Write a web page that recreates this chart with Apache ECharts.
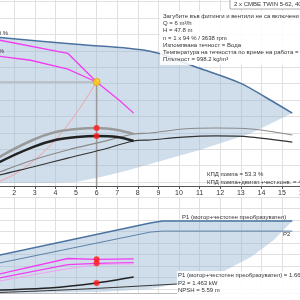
<!DOCTYPE html>
<html>
<head>
<meta charset="utf-8">
<script src="https://cdn.jsdelivr.net/npm/echarts@6/dist/echarts.min.js"></script>
<style>
  html, body { margin: 0; padding: 0; background: #fff; }
  #chart { width: 300px; height: 300px; }
</style>
</head>
<body>
<div id="chart"></div>
<script>
// ---- top chart: Q [m3/h] / H [m] / efficiency [%] ----
const maxQ = [0, 1.3, 5, 8.6, 11, 13, 14.2, 15.5];
const maxH = [69.5, 68.3, 65.1, 61.9, 54.1, 47.2, 40.8, 33.5];
const minQ = [0, 1.3, 3.7, 5, 6.2, 7.4, 8.6, 11, 13.5, 15.5];
const minH = [1.3, 1.4, 1.4, 1.8, 4.1, 6.9, 10.1, 16.5, 24.3, 33.5];

const curveQ100 = [0, 1.3, 4.6, 6.0, 7.1, 7.8];
const curveH100 = [68.1, 67.0, 61.0, 47.8, 39.4, 33.5];
const curveQ94 = [0, 1.3, 2.8, 4.6, 6.0];
const curveH94 = [60.2, 59.6, 57.8, 53.7, 47.8];

const systemQ = [0, 1, 2, 3, 4, 5, 6];
const systemH = [0, 1.3, 5.3, 12, 21.2, 33.2, 47.8];

const effQ94 = [0.8, 1.3, 2.9, 4.0, 5.05, 6.0, 7.0, 7.8];
const effPump94 = [18, 26.7, 42.3, 49.6, 52.4, 53.3, 51.5, 47.8];
const effTotal94 = [15, 22.1, 35.8, 42.3, 45.0, 46.0, 45.0, 41.4];
const effQ100 = [0.8, 1.3, 2.9, 4.6, 6.2, 7.8, 8.6, 10.2, 11.8, 13.5, 15.5];
const effPump100 = [9, 12.9, 23.9, 33.1, 40.4, 47.8, 48.7, 52.4, 53.3, 52.4, 46.9];
const effTotal100 = [7, 10.1, 17.5, 25.7, 33.1, 41.4, 42.3, 45.0, 46.0, 45.0, 40.4];

const dutyQ = 6.0;
const dutyH = 47.8;
const dutyEffPump = 53.3;
const dutyEffTotal = 46.0;

// ---- bottom chart: power [kW] / NPSH [m] ----
const p1MaxQ = [0, 1.3, 8.6, 9.2, 15.5];
const p1MaxP = [1.59, 1.87, 3.45, 3.55, 3.55];
const p2MaxQ = [0, 1.3, 8.6, 9.2, 15.5];
const p2MaxP = [1.21, 1.48, 3.0, 3.05, 3.05];
const pMinQ = [0, 1.3, 6.2, 8.6, 9.8, 11, 12.1, 13.5, 14.6, 15.5];
const pMinP = [0, 0, 0.05, 0.2, 0.44, 0.69, 1.03, 1.77, 2.61, 3.55];

const p1Q94 = [0, 1.3, 4.6, 6.0, 7.8];
const p1P94 = [0.64, 0.94, 1.70, 1.66, 1.68];
const p2Q94 = [0, 1.3, 4.6, 6.0, 7.8];
const p2P94 = [0.45, 0.74, 1.40, 1.463, 1.50];
const p2bQ94 = [0, 1.3, 6.0, 7.8];
const p2bP94 = [0.3, 0.59, 1.38, 1.43];

const npshQ = [0, 1.3, 3.7, 6.0, 7.8];
const npshM = [1.0, 1.68, 2.8, 5.59, 8.9];
const npshMaxQ = [0, 1.3, 5, 9.9, 10.5];
const npshMaxM = [0, 0.3, 2.0, 5.0, 5.3];

const dutyP1 = 1.66;
const dutyP2 = 1.463;
const dutyNpsh = 5.59;

const xTicks = [0, 16, 1];

const zip = (a, b) => a.map((v, i) => [v, b[i]]);

const chart = echarts.init(document.getElementById('chart'), null, { renderer: 'canvas' });

const font = '"Liberation Sans", Arial, sans-serif';
const magenta = '#f23cf2';
const blueLine = '#4a72a0';
const fillCol = 'rgba(150,180,208,0.45)';
const gridCol = '#e0e0e0';

function envelope(upQ, upV, loQ, loV, xi, yi) {
    return {
        type: 'custom',
        xAxisIndex: xi,
        yAxisIndex: yi,
        silent: true,
        data: [[0, 0]],
        z: 1,
        renderItem: function (params, api) {
            let pts = zip(upQ, upV).map(p => api.coord(p));
            let low = zip(loQ, loV).map(p => api.coord(p)).reverse();
            return {
                type: 'polygon',
                shape: { points: pts.concat(low) },
                style: { fill: fillCol, stroke: null }
            };
        }
    };
}

function line(q, v, xi, yi, color, width, z, smooth) {
    return {
        type: 'line',
        xAxisIndex: xi,
        yAxisIndex: yi,
        data: zip(q, v),
        showSymbol: false,
        smooth: smooth === undefined ? 0.3 : smooth,
        silent: true,
        z: z || 3,
        lineStyle: { color: color, width: width }
    };
}

function dots(pts, xi, yi, color, size, border) {
    return {
        type: 'scatter',
        xAxisIndex: xi,
        yAxisIndex: yi,
        data: pts,
        symbolSize: size,
        silent: true,
        z: 10,
        itemStyle: { color: color, borderColor: border || color, borderWidth: border ? 1 : 0 }
    };
}

function txt(x, y, s, align) {
    return {
        type: 'text',
        x: x, y: y,
        z: 100,
        style: { text: s, fill: '#333', font: '6px ' + font, textAlign: align || 'left', textVerticalAlign: 'middle' }
    };
}

// hidden axis pair used only to draw a grid's horizontal lines
function gridLinesX(gi) {
    return { gridIndex: gi, type: 'value', min: 0, max: 1, show: false };
}
function gridLinesY(gi, n) {
    return {
        gridIndex: gi, type: 'value', min: 0, max: n, interval: 1,
        axisLine: { show: false }, axisTick: { show: false }, axisLabel: { show: false },
        splitLine: { lineStyle: { color: gridCol } }
    };
}

chart.setOption({
    animation: false,
    backgroundColor: '#fff',
    grid: [
        { left: -27, width: 329.6, top: -9.8, height: 195.8, outerBoundsMode: 'none', containLabel: false },
        { left: -27, width: 329.6, top: 197, height: 96, outerBoundsMode: 'none', containLabel: false },
        // horizontal grid lines of the top chart
        { left: -27, width: 329.6, top: -14.8, height: 196.8, outerBoundsMode: 'none', containLabel: false },
        // horizontal grid lines of the bottom chart
        { left: -27, width: 329.6, top: 197, height: 103.5, outerBoundsMode: 'none', containLabel: false }
    ],
    xAxis: [
        {
            gridIndex: 0, type: 'value', min: xTicks[0], max: xTicks[1], interval: xTicks[2],
            axisLine: { lineStyle: { color: '#555', width: 1 } },
            axisTick: { length: 3, lineStyle: { color: '#555' } },
            axisLabel: { fontSize: 7, color: '#333', margin: 4, fontFamily: font },
            splitLine: { lineStyle: { color: gridCol } }
        },
        {
            gridIndex: 1, type: 'value', min: xTicks[0], max: xTicks[1], interval: xTicks[2],
            axisLine: { show: false }, axisTick: { show: false }, axisLabel: { show: false },
            splitLine: { lineStyle: { color: gridCol } }
        },
        {
            gridIndex: 1, type: 'value', position: 'top', min: xTicks[0], max: xTicks[1], interval: xTicks[2],
            axisLine: { lineStyle: { color: '#bbb' } }, axisTick: { show: false }, axisLabel: { show: false },
            splitLine: { show: false }
        },
        gridLinesX(2),
        gridLinesX(3)
    ],
    yAxis: [
        {
            gridIndex: 0, type: 'value', min: 0, max: 90,
            axisLine: { show: false }, axisTick: { show: false }, axisLabel: { show: false },
            splitLine: { show: false }
        },
        {
            gridIndex: 0, type: 'value', min: 0, max: 180, show: false
        },
        {
            gridIndex: 1, type: 'value', min: 0, max: 4.73,
            axisLine: { show: false }, axisTick: { show: false }, axisLabel: { show: false },
            splitLine: { show: false }
        },
        {
            gridIndex: 1, type: 'value', min: 0, max: 53.6, show: false
        },
        gridLinesY(2, 12),
        gridLinesY(3, 9)
    ],
    series: [
        envelope(maxQ, maxH, minQ, minH, 0, 0),
        line(maxQ, maxH, 0, 0, blueLine, 1.5),
        line(systemQ, systemH, 0, 0, '#f2a3a3', 1),
        line([dutyQ, dutyQ], [0, dutyH], 0, 0, '#9a9a9a', 1.5, 2),
        line([0, dutyQ], [dutyH, dutyH], 0, 0, '#a8a8a8', 1.2, 2),
        line(curveQ100, curveH100, 0, 0, magenta, 1.3, 4, false),
        line(curveQ94, curveH94, 0, 0, magenta, 1.3, 4, false),
        line(effQ100, effPump100, 0, 1, '#8a8a8a', 1.2),
        line(effQ100, effTotal100, 0, 1, '#333', 1.2),
        line(effQ94, effPump94, 0, 1, '#9a9a9a', 2.5),
        line(effQ94, effTotal94, 0, 1, '#222', 2.5),
        dots([[dutyQ, dutyEffPump], [dutyQ, dutyEffTotal]], 0, 1, '#ff1a1a', 6),
        dots([[dutyQ, dutyH]], 0, 0, '#ffd400', 7, '#e89a00'),

        envelope(p1MaxQ, p1MaxP, pMinQ, pMinP, 1, 2),
        line(p1MaxQ, p1MaxP, 1, 2, blueLine, 1.5, 3, false),
        line(p2MaxQ, p2MaxP, 1, 2, '#5d80a8', 1, 3, false),
        line(p1Q94, p1P94, 1, 2, magenta, 1.3, 4, false),
        line(p2Q94, p2P94, 1, 2, magenta, 1.3, 4, false),
        line(p2bQ94, p2bP94, 1, 2, '#f0a0f0', 1, 4),
        line(npshMaxQ, npshMaxM, 1, 3, '#333', 1),
        line(npshQ, npshM, 1, 3, '#222', 1.5),
        dots([[dutyQ, dutyP1], [dutyQ, dutyP2]], 1, 2, '#ff1a1a', 6),
        dots([[dutyQ, dutyNpsh]], 1, 3, '#ff1a1a', 6)
    ],
    graphic: [
        // title box
        { type: 'rect', shape: { x: 230, y: -2, width: 75, height: 11 }, z: 99,
          style: { fill: '#fff', stroke: '#999', lineWidth: 0.8 } },
        txt(234, 4.5, '2 x CMBE TWIN 5-62, 400 V'),
        // duty info box
        { type: 'rect', shape: { x: 160, y: 11, width: 145, height: 54 }, z: 98,
          style: { fill: 'rgba(255,255,255,0.85)' } },
        txt(163, 16, 'Загубите във фитинги и вентили не са включени'),
        txt(163, 23.3, 'Q = 6 m³/h'),
        txt(163, 30.6, 'H = 47.8 m'),
        txt(163, 37.9, 'n = 1 x 94 % / 3638 rpm'),
        txt(163, 45.2, 'Изпомпвана течност = Вода'),
        txt(163, 52.5, 'Температура на течността по време на работа = 20 °C'),
        txt(163, 59.8, 'Плътност = 998.2 kg/m³'),
        // speed labels
        txt(8, 33, '100 %', 'right'),
        txt(4, 51, '94 %', 'right'),
        // efficiency values
        txt(207, 174, 'КПД помпа = 53.3 %'),
        txt(207, 182, 'КПД помпа+двигат.+чест.конв. = 46.0 %'),
        // power labels
        txt(182, 217, 'P1 (мотор+честотен преобразувател)'),
        txt(283, 234, 'P2'),
        { type: 'rect', shape: { x: 177, y: 271, width: 128, height: 24 }, z: 98,
          style: { fill: 'rgba(255,255,255,0.9)' } },
        txt(178, 275, 'P1 (мотор+честотен преобразувател) = 1.66 kW'),
        txt(178, 283, 'P2 = 1.463 kW'),
        txt(178, 290.5, 'NPSH = 5.59 m')
    ]
});
</script>
</body>
</html>
